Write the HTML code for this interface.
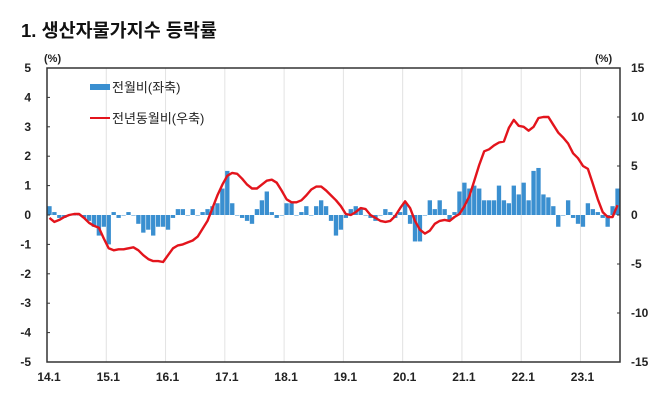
<!DOCTYPE html>
<html><head><meta charset="utf-8">
<style>
body{margin:0;background:#fff;width:671px;height:405px;overflow:hidden;font-family:"Liberation Sans","Noto Sans CJK KR",sans-serif;}
svg text{font-family:"Liberation Sans","Noto Sans CJK KR",sans-serif;}
</style></head>
<body>
<svg id="chart" width="671" height="405">
<text x="21" y="37" font-size="18.5" font-weight="bold" fill="#111">1. 생산자물가지수 등락률</text>
<text x="44" y="62" font-size="11" font-weight="bold" fill="#222">(%)</text>
<text x="595" y="62" font-size="11" font-weight="bold" fill="#222">(%)</text>
<g id="grid"></g><g id="bars"></g><g id="line"></g><g id="axes"></g>
<g>
<rect x="90" y="84" width="20" height="6" fill="#3a8fd0"/>
<text x="112" y="92" font-size="13" fill="#222">전월비(좌축)</text>
<line x1="90" y1="118" x2="110" y2="118" stroke="#e3141c" stroke-width="2"/>
<text x="112" y="123" font-size="13" fill="#222">전년동월비(우축)</text>
</g>
</svg>
<script>
const yearLabels=["14.1","15.1","16.1","17.1","18.1","19.1","20.1","21.1","22.1","23.1"];
const leftTicks=[5,4,3,2,1,0,-1,-2,-3,-4,-5];
const rightTicks=[15,10,5,0,-5,-10,-15];
const mom=[0.3,0.1,-0.1,-0.1,0.0,0.0,0.0,-0.1,-0.2,-0.4,-0.7,-0.4,
-1.0,0.1,-0.1,0.0,0.1,0.0,-0.3,-0.6,-0.5,-0.7,-0.4,-0.4,
-0.5,-0.1,0.2,0.2,0.0,0.2,0.0,0.1,0.2,0.3,0.4,0.9,
1.5,0.4,0.0,-0.1,-0.2,-0.3,0.2,0.5,0.8,0.1,-0.1,0.0,
0.4,0.4,0.0,0.1,0.3,0.0,0.3,0.5,0.3,-0.2,-0.7,-0.5,
-0.1,0.2,0.3,0.2,0.0,-0.1,-0.2,0.0,0.2,0.1,-0.1,0.1,
0.4,-0.3,-0.9,-0.9,0.0,0.5,0.2,0.5,0.2,-0.2,0.1,0.8,
1.1,0.9,1.0,0.9,0.5,0.5,0.5,1.0,0.5,0.4,1.0,0.7,
1.1,0.5,1.5,1.6,0.7,0.6,0.3,-0.4,0.0,0.5,-0.1,-0.3,
-0.4,0.4,0.2,0.1,-0.1,-0.4,0.3,0.9];
const yoy=[-0.3,-0.7,-0.5,-0.2,0.0,0.1,0.1,-0.3,-0.8,-1.1,-1.3,-2.4,
-3.4,-3.6,-3.5,-3.5,-3.4,-3.3,-3.6,-4.1,-4.5,-4.7,-4.7,-4.8,
-4.1,-3.4,-3.1,-3.0,-2.8,-2.6,-2.2,-1.4,-0.6,0.7,2.0,3.1,
4.0,4.3,4.2,3.7,3.1,2.7,2.7,3.1,3.5,3.6,3.3,2.5,
1.6,1.3,1.3,1.5,2.0,2.6,2.9,2.9,2.5,2.0,1.5,0.9,
0.1,0.0,0.3,0.7,0.6,0.0,-0.3,-0.6,-0.7,-0.6,-0.1,0.7,
1.4,0.7,-0.6,-1.5,-1.9,-1.6,-0.9,-0.6,-0.5,-0.6,-0.2,0.1,
0.9,1.9,3.5,5.1,6.5,6.7,7.1,7.4,7.5,8.9,9.7,9.1,
9.0,8.6,9.0,9.9,10.0,10.0,9.2,8.4,7.9,7.3,6.3,5.8,
5.0,4.7,3.2,1.6,0.3,-0.2,-0.2,1.0];
const NS="http://www.w3.org/2000/svg";
const X0=47,X1=620,Y0=68,Y1=362,N=mom.length;
const slot=(X1-X0)/N;
const xL=i=>X0+i*slot;
const yL=v=>Y0+(5-v)/10*(Y1-Y0);
const yR=v=>Y0+(15-v)/30*(Y1-Y0);
function mk(tag,attrs,parent){const e=document.createElementNS(NS,tag);for(const k in attrs)e.setAttribute(k,attrs[k]);document.getElementById(parent).appendChild(e);return e;}
yearLabels.forEach((t,j)=>{
  const x=xL(j*12);
  if(j>0){const g=mk('line',{x1:x,x2:x,y1:Y0,y2:Y1,stroke:'#e2e2e2','stroke-width':1},'grid');
  
  }
  const tx=mk('text',{x:x+2,y:381,'font-size':12,'font-weight':'bold','text-anchor':'middle',fill:'#222'},'axes');
  tx.textContent=t;
  
  
});
mom.forEach((v,i)=>{
  const y0=yL(0),y=yL(v);
  const r=mk('rect',{x:xL(i)+0.3,width:slot-0.6,y:Math.min(y,y0),height:Math.max(Math.abs(y-y0),0.5),fill:'#3a8fd0'},'bars');
  
  
});
const pts=yoy.map((v,i)=>(xL(i)+slot/2).toFixed(1)+','+yR(v).toFixed(1)).join(' ');
const pl=mk('polyline',{points:pts,fill:'none',stroke:'#e3141c','stroke-width':2.4,'stroke-linejoin':'round'},'line');


const box=mk('rect',{x:X0,y:Y0,width:X1-X0,height:Y1-Y0,fill:'none',stroke:'#333','stroke-width':1.5},'axes');


leftTicks.forEach(v=>{
  const t=mk('text',{x:31,y:yL(v)+4,'font-size':12,'font-weight':'bold','text-anchor':'end',fill:'#222'},'axes');
  t.textContent=v;
  
  
  const tk=mk('line',{x1:X0,x2:X0+3,y1:yL(v),y2:yL(v),stroke:'#333'},'axes');
  
  
});
rightTicks.forEach(v=>{
  const t=mk('text',{x:631,y:yR(v)+4,'font-size':12,'font-weight':'bold',fill:'#222'},'axes');
  t.textContent=v;
  
  
  const tk=mk('line',{x1:X1-3,x2:X1,y1:yR(v),y2:yR(v),stroke:'#333'},'axes');
  
  
});
</script>
</body></html>
